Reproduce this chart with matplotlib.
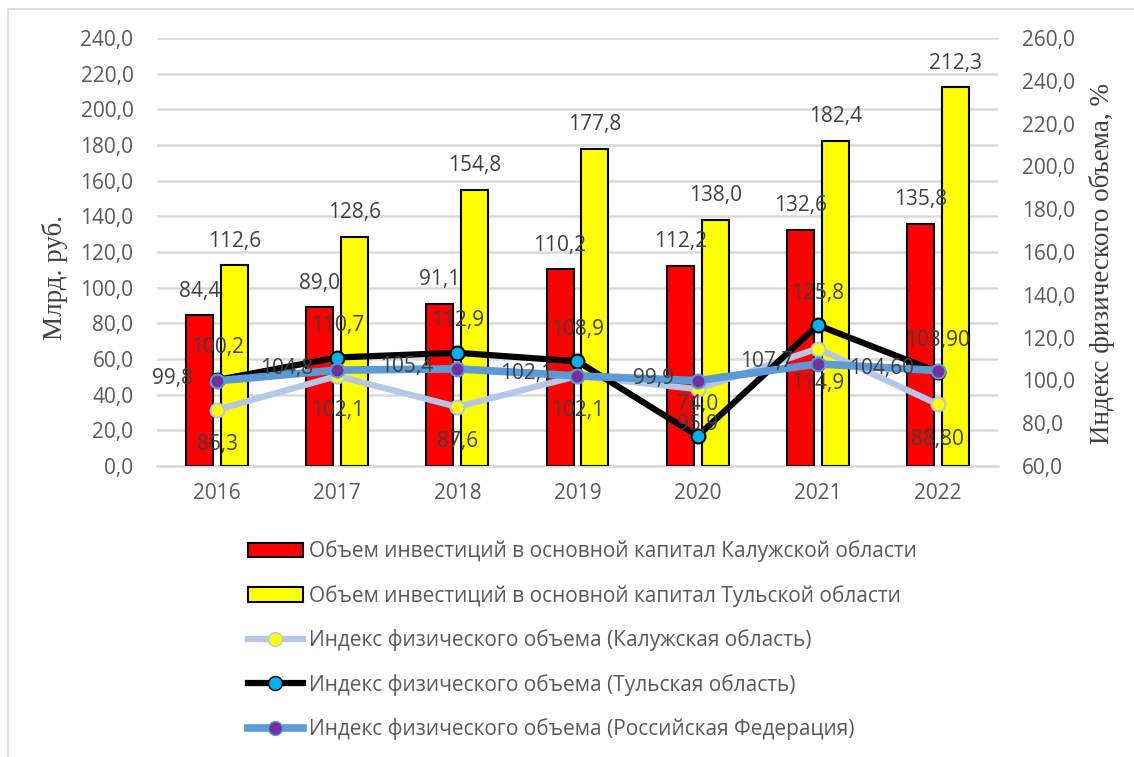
import matplotlib
matplotlib.use("Agg")
import matplotlib.pyplot as plt
import numpy as np
from matplotlib.lines import Line2D
from matplotlib.patches import Patch, Rectangle

years = ["2016", "2017", "2018", "2019", "2020", "2021", "2022"]
kaluga_inv = [84.4, 89.0, 91.1, 110.2, 112.2, 132.6, 135.8]
tula_inv = [112.6, 128.6, 154.8, 177.8, 138.0, 182.4, 212.3]
kaluga_idx = [86.3, 102.1, 87.6, 102.1, 95.9, 114.9, 88.8]
tula_idx = [100.2, 110.7, 112.9, 108.9, 74.0, 125.8, 103.9]
rf_idx = [99.8, 104.8, 105.4, 102.1, 99.9, 107.7, 104.6]
kaluga_idx_labels = ["86,3", "102,1", "87,6", "102,1", "95,9", "114,9", "88,80"]
tula_idx_labels = ["100,2", "110,7", "112,9", "108,9", "74,0", "125,8", "103,90"]
rf_idx_labels = ["99,8", "104,8", "105,4", "102,1", "99,9", "107,7", "104,60"]

legend_labels = [
    "Объем инвестиций в основной капитал Калужской области",
    "Объем инвестиций в основной капитал Тульской области",
    "Индекс физического объема (Калужская область)",
    "Индекс физического объема (Тульская область)",
    "Индекс физического объема (Российская Федерация)",
]

FONT = "Open Sans"
TXT = "#595959"
LBL = "#404040"
FS = 15
plt.rcParams["font.family"] = [FONT, "DejaVu Sans"]

W, H = 1134, 757
fig = plt.figure(figsize=(W/100, H/100), dpi=100)
ax = fig.add_axes([157/W, 1-466/H, (998-157)/W, (466-38)/H])
ax2 = ax.twinx()

x = np.arange(len(years))
bw = 0.225
off = 0.145
b1 = ax.bar(x - off, kaluga_inv, bw, color="#ff0000", edgecolor="black", linewidth=1.5, zorder=3)
b2 = ax.bar(x + off, tula_inv, bw, color="#ffff00", edgecolor="black", linewidth=1.5, zorder=3)

fmt = lambda v: f"{v:.1f}".replace(".", ",")
for bars, vals in ((b1, kaluga_inv), (b2, tula_inv)):
    for r, v in zip(bars, vals):
        ax.annotate(fmt(v), (r.get_x() + r.get_width()/2, v), xytext=(0, 24),
                    textcoords="offset pixels", ha="center", va="center",
                    fontsize=FS, color=LBL)

ax.set_ylim(0, 240)
ax.set_yticks(np.arange(0, 241, 20))
ax.set_yticklabels([fmt(v) for v in np.arange(0, 241, 20)], fontsize=FS, color=TXT)
ax.set_xlim(-0.5, len(years) - 0.5)
ax.set_xticks(x)
ax.set_xticklabels(years, fontsize=FS, color=TXT)
ax.grid(axis="y", color="#d9d9d9", linewidth=1.8, zorder=0)
ax.set_axisbelow(True)
for s in ["top", "left", "right"]:
    ax.spines[s].set_visible(False)
ax.spines["bottom"].set_color("#d9d9d9")
ax.spines["bottom"].set_linewidth(1.8)
ax.tick_params(axis="y", length=0, pad=17)
ax.tick_params(axis="x", length=0, pad=12)

ax2.plot(x, kaluga_idx, color="#b4c7e7", linewidth=4.5, marker="o", markersize=10,
         markerfacecolor="#ffff00", markeredgecolor="#b4c7e7", markeredgewidth=1.5, zorder=4)
ax2.plot(x, tula_idx, color="black", linewidth=4.5, marker="o", markersize=10,
         markerfacecolor="#00b0f0", markeredgecolor="black", markeredgewidth=1.5, zorder=5)
ax2.plot(x, rf_idx, color="#5b9bd5", linewidth=5.5, marker="o", markersize=10,
         markerfacecolor="#7030a0", markeredgecolor="#5b9bd5", markeredgewidth=1.5, zorder=6)

for xi, v, lab in zip(x, kaluga_idx, kaluga_idx_labels):
    ax2.annotate(lab, (xi, v), xytext=(0, -35), textcoords="offset pixels",
                 ha="center", va="center", fontsize=FS, color=LBL, zorder=7)
for xi, v, lab in zip(x, tula_idx, tula_idx_labels):
    ax2.annotate(lab, (xi, v), xytext=(0, 32), textcoords="offset pixels",
                 ha="center", va="center", fontsize=FS, color=LBL, zorder=7)
for xi, v, lab in zip(x, rf_idx, rf_idx_labels):
    ax2.annotate(lab, (xi, v), xytext=(-24, 2), textcoords="offset pixels",
                 ha="right", va="center", fontsize=FS, color=LBL, zorder=7)

ax2.set_ylim(60, 260)
ax2.set_yticks(np.arange(60, 261, 20))
ax2.set_yticklabels([fmt(v) for v in np.arange(60, 261, 20)], fontsize=FS, color=TXT)
for s in ["top", "left", "right", "bottom"]:
    ax2.spines[s].set_visible(False)
ax2.tick_params(length=0, pad=17)

fig.text(55/W, 1-277/H, "Млрд. руб.", rotation=90, ha="center", va="center",
         family="Liberation Serif", fontsize=19.5, color=LBL)
fig.text(1102/W, 1-264/H, "Индекс физического объема, %", rotation=90, ha="center", va="center",
         family="Liberation Serif", fontsize=19.5, color=LBL)

handles = [
    Patch(facecolor="#ff0000", edgecolor="black", linewidth=1.5),
    Patch(facecolor="#ffff00", edgecolor="black", linewidth=1.5),
    Line2D([], [], color="#b4c7e7", linewidth=4.5, marker="o", markersize=10,
           markerfacecolor="#ffff00", markeredgecolor="#b4c7e7"),
    Line2D([], [], color="black", linewidth=4.5, marker="o", markersize=10,
           markerfacecolor="#00b0f0", markeredgecolor="black"),
    Line2D([], [], color="#5b9bd5", linewidth=5.5, marker="o", markersize=10,
           markerfacecolor="#7030a0", markeredgecolor="#5b9bd5"),
]
leg = fig.legend(handles, legend_labels, loc="upper left", bbox_to_anchor=(240/W, 1-532/H),
                 frameon=False, fontsize=FS, handlelength=2.6, handletextpad=0.29,
                 labelspacing=1.08, borderaxespad=0, labelcolor=TXT)

fig.add_artist(Rectangle((8/W, -0.01), 1.1, 1 - 9/H + 0.01, transform=fig.transFigure,
                         fill=False, edgecolor="#d9d9d9", linewidth=1.2))

fig.savefig("out.png", dpi=100)
